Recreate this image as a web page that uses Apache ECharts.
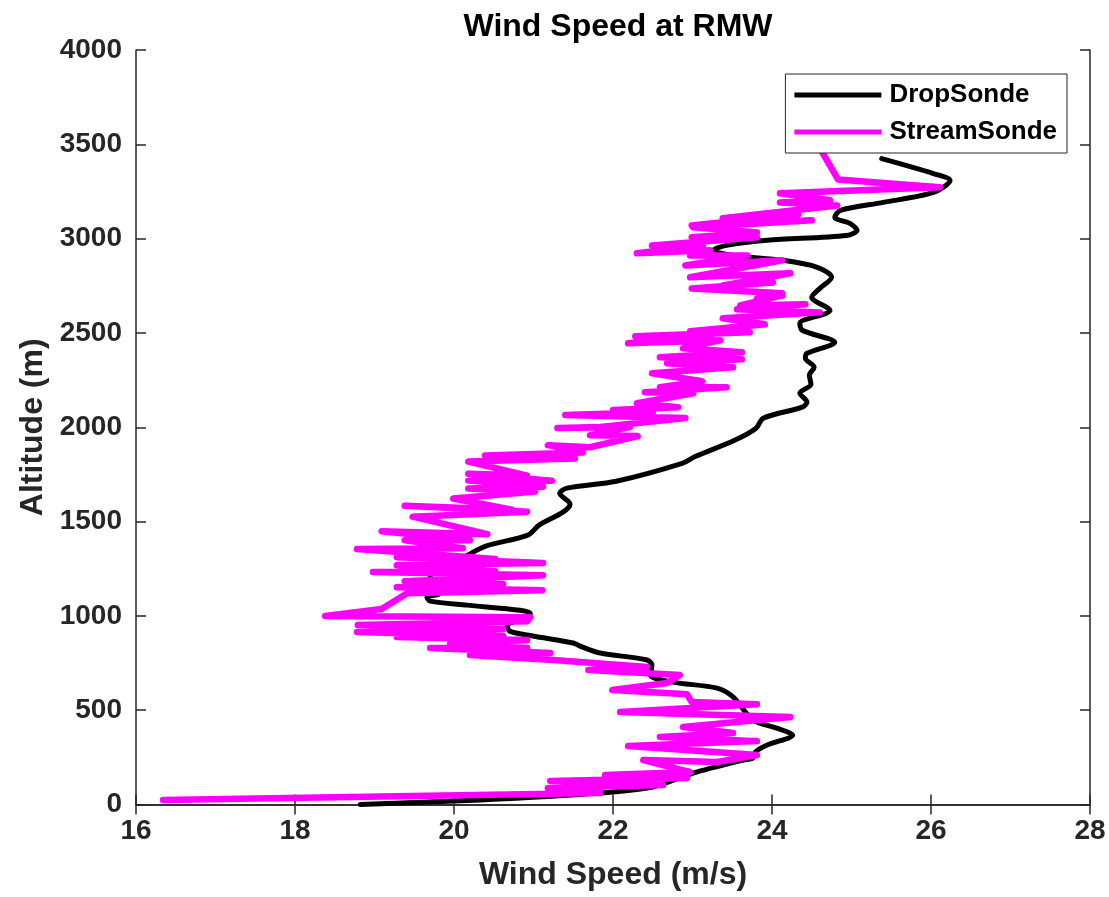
<!DOCTYPE html>
<html>
<head>
<meta charset="utf-8">
<title>Wind Speed at RMW</title>
<script src="https://cdn.jsdelivr.net/npm/echarts@6/dist/echarts.min.js"></script>
<style>
  html, body { margin: 0; padding: 0; background: #fff; }
  #chart { width: 1109px; height: 897px; }
</style>
</head>
<body>
<div id="chart"></div>
<script>
// axis ticks
const xTicks = [16, 18, 20, 22, 24, 26, 28];
const yTicks = [0, 500, 1000, 1500, 2000, 2500, 3000, 3500, 4000];

// DropSonde profile: [wind speed (m/s), altitude (m)], bottom to top
const dropSonde = [
  [18.82, 0], [20.33, 24], [21.84, 61], [22.50, 93], [23.01, 167],
  [23.64, 236], [23.76, 246], [23.79, 278], [23.94, 315], [24.26, 368],
  [24.06, 405], [23.76, 448], [23.51, 570], [23.31, 617], [22.75, 649],
  [22.47, 686], [22.49, 739], [22.43, 766], [21.84, 803], [21.62, 834],
  [21.50, 856], [20.99, 893], [20.70, 919], [20.67, 951], [20.92, 988],
  [20.96, 1014], [20.83, 1030], [20.16, 1057], [19.70, 1078], [19.66, 1099],
  [19.82, 1120], [19.70, 1194], [19.74, 1258], [20.09, 1306], [20.40, 1370],
  [20.93, 1428], [21.07, 1481], [21.37, 1550], [21.46, 1592], [21.33, 1650],
  [21.42, 1677], [22.04, 1714], [22.87, 1809], [23.04, 1846], [23.53, 1931],
  [23.80, 1995], [23.89, 2048], [24.38, 2107], [24.44, 2133], [24.35, 2181],
  [24.49, 2228], [24.47, 2276], [24.53, 2318], [24.42, 2366], [24.44, 2392],
  [24.79, 2450], [24.38, 2514], [24.35, 2551], [24.73, 2620], [24.50, 2689],
  [24.60, 2736], [24.75, 2795], [24.57, 2848], [24.14, 2885], [23.51, 2911],
  [23.26, 2938], [23.43, 2964], [23.94, 2991], [24.94, 3017], [25.07, 3044],
  [24.98, 3081], [24.79, 3113], [24.86, 3150], [25.40, 3192], [26.03, 3245],
  [26.24, 3308], [26.03, 3345], [25.38, 3424]
];

// StreamSonde profile: [wind speed (m/s), altitude (m)], bottom to top
const streamSonde = [
  [16.34, 24], [21.84, 61], [21.18, 87], [22.63, 103], [21.21, 125],
  [22.93, 140], [21.90, 156], [22.97, 172], [22.38, 236], [23.31, 225],
  [23.81, 262], [22.19, 310], [23.81, 336], [22.59, 358], [23.51, 379],
  [22.88, 411], [24.23, 464], [22.09, 490], [23.81, 532], [22.99, 543],
  [22.93, 585], [21.99, 607], [22.68, 644], [22.84, 686], [21.69, 713],
  [22.43, 729], [21.25, 766], [20.20, 793], [21.21, 803], [19.70, 830],
  [20.92, 830], [19.95, 851], [20.92, 872], [19.28, 888], [20.62, 893],
  [18.78, 914], [20.62, 930], [18.79, 951], [20.92, 972], [20.96, 993],
  [18.38, 999], [19.09, 1036], [19.41, 1120], [21.11, 1136], [19.28, 1152],
  [20.62, 1168], [19.38, 1184], [21.12, 1216], [18.98, 1232], [20.52, 1237],
  [19.28, 1269], [21.12, 1280], [19.28, 1311], [20.52, 1301], [18.78, 1354],
  [20.11, 1359], [19.38, 1401], [20.20, 1401], [19.09, 1449], [20.42, 1433],
  [19.48, 1526], [20.92, 1552], [19.38, 1584], [20.73, 1563], [19.99, 1622],
  [21.02, 1659], [20.18, 1675], [21.12, 1685], [20.18, 1717], [21.23, 1717],
  [20.18, 1754], [20.92, 1744], [20.18, 1818], [21.52, 1834], [20.39, 1850],
  [21.62, 1866], [21.18, 1905], [21.71, 1894], [22.31, 1953], [21.71, 1958],
  [22.21, 2001], [21.30, 1996], [21.84, 2001], [22.91, 2049], [21.40, 2065],
  [22.50, 2080], [22.00, 2091], [22.82, 2106], [22.30, 2127], [23.01, 2180],
  [22.40, 2186], [23.43, 2212], [22.59, 2212], [23.12, 2244], [22.49, 2286],
  [23.51, 2318], [22.68, 2339], [23.62, 2360], [22.59, 2371], [23.62, 2397],
  [22.88, 2419], [23.35, 2461], [22.19, 2445], [23.32, 2498], [22.28, 2482],
  [23.72, 2503], [22.97, 2509], [23.91, 2546], [23.38, 2578], [24.60, 2609],
  [23.56, 2625], [24.42, 2652], [23.60, 2646], [24.13, 2699], [23.81, 2683],
  [24.13, 2710], [22.99, 2736], [24.01, 2768], [23.38, 2752], [24.23, 2816],
  [22.97, 2795], [24.13, 2885], [22.91, 2858], [23.69, 2911], [22.97, 2911],
  [23.22, 2938], [22.30, 2922], [23.13, 2964], [22.49, 2964], [23.81, 3007],
  [22.99, 3007], [23.81, 3033], [23.01, 3060], [24.50, 3097], [22.99, 3070],
  [24.33, 3129], [23.38, 3108], [24.82, 3176], [24.10, 3192], [24.73, 3203],
  [24.10, 3240], [26.11, 3272], [25.32, 3298], [24.83, 3314], [24.64, 3452],
  [24.50, 3547]
];

const FONT = '"Liberation Sans", Arial, Helvetica, sans-serif';
const AXIS_COLOR = '#262626';

const axisLine = { show: true, lineStyle: { color: AXIS_COLOR, width: 1.5 } };
const axisTick = { show: true, inside: true, length: 10, lineStyle: { color: AXIS_COLOR, width: 1.5 } };
const tickLabel = { fontSize: 28, fontWeight: 'bold', color: AXIS_COLOR, fontFamily: FONT, formatter: v => String(v) };
const axisName = { fontSize: 32, fontWeight: 'bold', color: AXIS_COLOR, fontFamily: FONT };

const xRange = { type: 'value', min: xTicks[0], max: xTicks[xTicks.length - 1], interval: xTicks[1] - xTicks[0] };
const yRange = { type: 'value', min: yTicks[0], max: yTicks[yTicks.length - 1], interval: yTicks[1] - yTicks[0] };

const chart = echarts.init(document.getElementById('chart'), null, { renderer: 'canvas' });

const option = {
  animation: false,
  backgroundColor: '#fff',
  title: {
    text: 'Wind Speed at RMW',
    left: 613,
    top: 6,
    textAlign: 'center',
    textStyle: { fontSize: 32, fontWeight: 'bold', color: '#000', fontFamily: FONT }
  },
  grid: { left: 136, right: 19, top: 50, bottom: 92.5 },
  legend: {
    orient: 'vertical',
    right: 42,
    top: 74,
    padding: [8, 10, 8, 9],
    icon: 'rect',
    itemWidth: 87,
    itemHeight: 5,
    itemGap: 11,
    backgroundColor: '#fff',
    borderColor: AXIS_COLOR,
    borderWidth: 1,
    textStyle: { fontSize: 26, fontWeight: 'bold', color: '#000', fontFamily: FONT, padding: [0, 0, 0, 3] },
    data: ['DropSonde', 'StreamSonde']
  },
  xAxis: [
    Object.assign({}, xRange, {
      position: 'bottom',
      name: 'Wind Speed (m/s)',
      nameLocation: 'middle',
      nameGap: 55,
      nameTextStyle: axisName,
      axisLine, axisTick,
      axisLabel: Object.assign({ margin: 13 }, tickLabel),
      splitLine: { show: false }
    }),
    Object.assign({}, xRange, {
      position: 'top',
      axisLine, axisTick,
      axisLabel: { show: false },
      splitLine: { show: false }
    })
  ],
  yAxis: [
    Object.assign({}, yRange, {
      position: 'left',
      name: 'Altitude (m)',
      nameLocation: 'middle',
      nameGap: 86,
      nameTextStyle: axisName,
      axisLine, axisTick,
      axisLabel: Object.assign({ margin: 14 }, tickLabel),
      splitLine: { show: false }
    }),
    Object.assign({}, yRange, {
      position: 'right',
      axisLine, axisTick,
      axisLabel: { show: false },
      splitLine: { show: false }
    })
  ],
  series: [
    {
      name: 'DropSonde',
      type: 'line',
      data: dropSonde,
      symbol: 'none',
      smooth: 0.3,
      z: 2,
      itemStyle: { color: '#000' },
      lineStyle: { color: '#000', width: 5, cap: 'round', join: 'round' }
    },
    {
      name: 'StreamSonde',
      type: 'line',
      data: streamSonde,
      symbol: 'none',
      z: 3,
      itemStyle: { color: '#ff00ff' },
      lineStyle: { color: '#ff00ff', width: 6.5, cap: 'round', join: 'round' }
    }
  ]
};

chart.setOption(option);
</script>
</body>
</html>
